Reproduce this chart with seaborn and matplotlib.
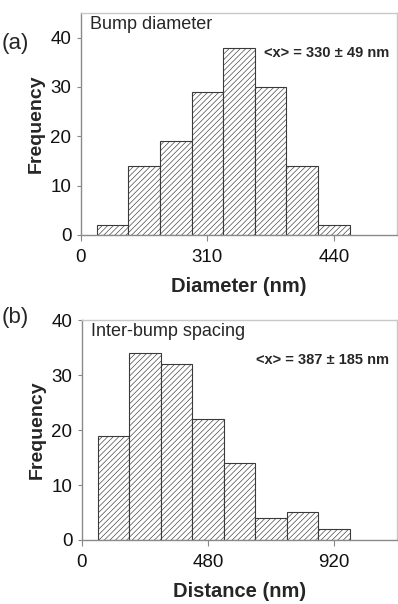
import matplotlib
matplotlib.use("Agg")
import matplotlib.pyplot as plt
import seaborn as sns
import pandas as pd

# histogram bins (category positions on the axis) and counts
diam_pos = [1, 2, 3, 4, 5, 6, 7, 8]
diam_freq = [2, 14, 19, 29, 38, 30, 14, 2]
diam_tick_pos = [0, 4, 8]
diam_tick_labels = ["0", "310", "440"]

space_pos = [1, 2, 3, 4, 5, 6, 7, 8]
space_freq = [19, 34, 32, 22, 14, 4, 5, 2]
space_tick_pos = [0, 4, 8]
space_tick_labels = ["0", "480", "920"]

sns.set_style("ticks")
plt.rcParams["font.family"] = ["Liberation Sans", "DejaVu Sans"]
plt.rcParams["hatch.linewidth"] = 0.45
plt.rcParams["hatch.color"] = "#707070"

fig = plt.figure(figsize=(3.98, 6.04), dpi=100)
ax1 = fig.add_axes([0.2035, 0.611, 0.794, 0.3675])
ax2 = fig.add_axes([0.206, 0.106, 0.792, 0.364])

panels = [
    (ax1, diam_pos, diam_freq, diam_tick_pos, diam_tick_labels, 45,
     "Bump diameter", "<x> = 330 ± 49 nm", "Diameter (nm)"),
    (ax2, space_pos, space_freq, space_tick_pos, space_tick_labels, 40,
     "Inter-bump spacing", "<x> = 387 ± 185 nm", "Distance (nm)"),
]

for ax, pos, freq, tpos, tlab, ymax, title, stat, xlab in panels:
    df = pd.DataFrame({"pos": pos, "freq": freq})
    sns.barplot(data=df, x="pos", y="freq", native_scale=True, width=1.0,
                color="white", edgecolor="#3a3a3a", linewidth=0.8,
                hatch="//////", ax=ax)
    ax.set_xlim(0, 10)
    ax.set_ylim(0, ymax)
    ax.set_yticks([0, 10, 20, 30, 40])
    ax.set_xticks(tpos)
    ax.set_xticklabels(tlab)
    ax.tick_params(labelsize=13.5, length=3, width=0.8, color="#888888",
                   pad=4, labelcolor="#111111")
    ax.tick_params(axis="x", length=4, pad=6)
    for s in ["left", "bottom"]:
        ax.spines[s].set_color("#8a8a8a")
        ax.spines[s].set_linewidth(1.0)
    for s in ["top", "right"]:
        ax.spines[s].set_visible(True)
        ax.spines[s].set_color("#c8c8c8")
        ax.spines[s].set_linewidth(1.0)
    ax.set_ylabel("Frequency", fontsize=14, fontweight="heavy", labelpad=4)
    ax.set_xlabel(xlab, fontsize=14.5, fontweight="heavy", labelpad=8)
    ax.text(0.028, 0.985, title, transform=ax.transAxes, fontsize=13,
            ha="left", va="top")
    ax.text(0.975, 0.82, stat, transform=ax.transAxes, fontsize=10.5,
            fontweight="bold", ha="right", va="center")

fig.text(0.003, 1 - 43 / 604, "(a)", fontsize=16, ha="left", va="center")
fig.text(0.003, 1 - 318 / 604, "(b)", fontsize=16, ha="left", va="center")

fig.savefig("out.png", dpi=100)
